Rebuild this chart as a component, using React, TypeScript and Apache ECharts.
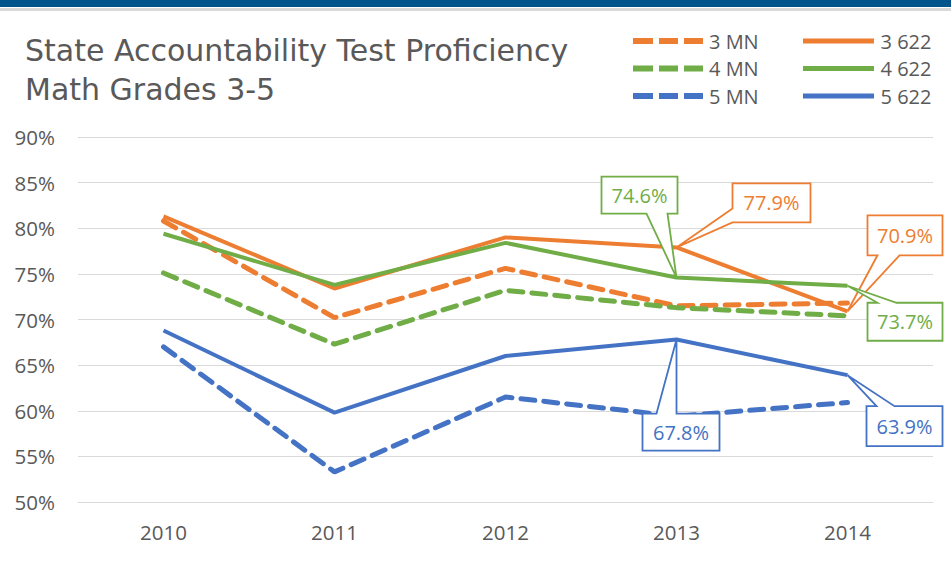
import React, { useEffect, useRef } from "react";
import * as echarts from "echarts";

const years = ["2010", "2011", "2012", "2013", "2014"];
const mn3 = [80.8, 70.2, 75.6, 71.5, 71.8];
const mn4 = [75.1, 67.3, 73.2, 71.3, 70.4];
const mn5 = [67.0, 53.3, 61.5, 59.4, 60.9];
const d3 = [81.3, 73.4, 79.0, 77.9, 70.9];
const d4 = [79.4, 73.8, 78.4, 74.6, 73.7];
const d5 = [68.8, 59.8, 66.0, 67.8, 63.9];
const seriesNames = ["3 MN", "4 MN", "5 MN", "3 622", "4 622", "5 622"];
const seriesData = [mn3, mn4, mn5, d3, d4, d5];
const yMin = 50;
const yMax = 90;
const yStep = 5;
const titleLines = ["State Accountability Test Proficiency", "Math Grades 3-5"];

const ORANGE = "#ED7D31";
const GREEN = "#70AD47";
const BLUE = "#4472C4";
const GRAY = "#595959";
const FONT = "'Open Sans', sans-serif";
const TITLE_FONT = "'DejaVu Sans', 'Open Sans', sans-serif";
const colors = [ORANGE, GREEN, BLUE, ORANGE, GREEN, BLUE];

const DASH_ICON = "path://M0,0h20v6h-20z M26,0h19v6h-19z M51,0h19v6h-19z";
const SOLID_ICON = "path://M0,0h71v5h-71z";

// callout layout: series index, point index, box offset [dx, dy, w, h] relative to point, edge for pointer, base offsets
const callouts = [
  { s: 4, i: 3, box: [-75, -101, 76, 37], edge: "bottom", base: [-30, -9] },
  { s: 3, i: 3, box: [56, -64, 78, 39], edge: "left", base: [-39, -25] },
  { s: 3, i: 4, box: [20, -96, 75, 40], edge: "bottom", base: [30, 52] },
  { s: 4, i: 4, box: [20, 17, 75, 38], edge: "top", base: [30, 49] },
  { s: 5, i: 3, box: [-34, 74, 77, 37], edge: "top", base: [-20, 0] },
  { s: 5, i: 4, box: [19, 31, 76, 40], edge: "top", base: [29, 47] },
];

export default function App() {
  const ref = useRef<HTMLDivElement>(null);
  useEffect(() => {
    if (!ref.current) return;
    const chart = echarts.init(ref.current, null, { renderer: "svg" });
    const series = seriesData.map((d, k) => ({
      name: seriesNames[k],
      type: "line",
      data: d,
      symbol: "none",
      z: k < 3 ? 2 : 3,
      lineStyle: k < 3
        ? { color: colors[k], width: 5, type: [14, 9], cap: "round" }
        : { color: colors[k], width: 4 },
      itemStyle: { color: colors[k] },
    }));
    const legendText = { color: GRAY, fontSize: 20, fontFamily: FONT, lineHeight: 20, padding: [0, 0, 0, 0] };
    chart.setOption({
      animation: false,
      backgroundColor: "#fff",
      title: {
        text: titleLines.join("\n"),
        left: 20,
        top: 26,
        textStyle: {
          color: GRAY,
          fontSize: 30,
          fontWeight: "normal",
          fontFamily: TITLE_FONT,
          lineHeight: 39,
        },
      },
      legend: [
        {
          orient: "vertical", top: 26, left: 628, itemWidth: 72, itemHeight: 6, itemGap: 7.5,
          icon: DASH_ICON, textStyle: legendText, data: seriesNames.slice(0, 3),
        },
        {
          orient: "vertical", top: 26, left: 798, itemWidth: 74, itemHeight: 5, itemGap: 7.5,
          icon: SOLID_ICON, textStyle: legendText, data: seriesNames.slice(3),
        },
      ],
      grid: { left: 78, right: 18, top: 137, bottom: 60, containLabel: false },
      xAxis: {
        type: "category",
        data: years,
        boundaryGap: true,
        axisTick: { show: false },
        axisLine: { lineStyle: { color: "#d9d9d9" } },
        axisLabel: { color: GRAY, fontSize: 20.5, fontFamily: FONT, margin: 19 },
      },
      yAxis: {
        type: "value",
        min: yMin,
        max: yMax,
        interval: yStep,
        axisLabel: { color: GRAY, fontSize: 20.5, fontFamily: FONT, margin: 23, formatter: "{value}%" },
        axisLine: { show: false },
        axisTick: { show: false },
        splitLine: { lineStyle: { color: "#d9d9d9", width: 1 } },
      },
      series,
    });

    const graphics: any[] = [
      { type: "rect", shape: { x: 0, y: 0, width: 951, height: 7 }, style: { fill: "#00548C" }, z: 200 },
      { type: "rect", shape: { x: 0, y: 8, width: 951, height: 3 }, style: { fill: "#d9d9d9" }, z: 200 },
    ];
    callouts.forEach((c) => {
      const v = seriesData[c.s][c.i];
      const p = chart.convertToPixel({ seriesIndex: c.s }, [c.i, v]) as number[];
      const [px, py] = p;
      const x0 = px + c.box[0];
      const y0 = py + c.box[1];
      const x1 = x0 + c.box[2];
      const y1 = y0 + c.box[3];
      const [a, b] = c.base;
      let pts: number[][] = [];
      if (c.edge === "top") {
        pts = [[x0, y0], [px + a, y0], [px, py], [px + b, y0], [x1, y0], [x1, y1], [x0, y1]];
      } else if (c.edge === "bottom") {
        pts = [[x0, y0], [x1, y0], [x1, y1], [px + b, y1], [px, py], [px + a, y1], [x0, y1]];
      } else {
        pts = [[x0, y0], [x1, y0], [x1, y1], [x0, y1], [x0, py + b], [px, py], [x0, py + a]];
      }
      const col = colors[c.s];
      graphics.push({
        type: "polygon",
        shape: { points: pts },
        style: { fill: "#fff", stroke: col, lineWidth: 1.8 },
        z: 100,
      });
      graphics.push({
        type: "text",
        x: (x0 + x1) / 2,
        y: (y0 + y1) / 2,
        style: {
          text: v.toFixed(1) + "%",
          fill: col,
          fontSize: 20,
          fontFamily: FONT,
          align: "center",
          verticalAlign: "middle",
        },
        z: 101,
      });
    });
    chart.setOption({ graphic: graphics });
    return () => chart.dispose();
  }, []);
  return (
    <div
      ref={ref}
      style={{ position: "absolute", left: 0, top: 0, width: 951, height: 562 }}
    />
  );
}
